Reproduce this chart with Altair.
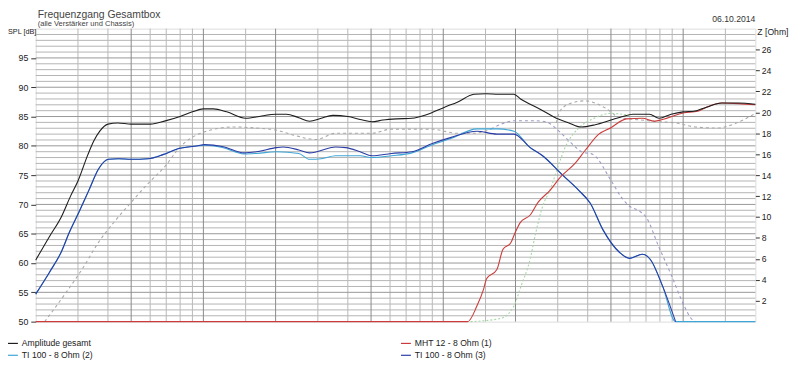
import altair as alt
import pandas as pd

# ---------------- data ----------------
TITLE = "Frequenzgang Gesamtbox"
SUBTITLE = "(alle Verstärker und Chassis)"
DATE = "06.10.2014"
Y_LEFT_TITLE = "SPL [dB]"
Y_RIGHT_TITLE = "Z [Ohm]"

X_LABELS = [20, 50, 100, 200, 500, 1000, 2000, 5000, 10000, 20000]
X_GRID_MAJOR = [50, 100, 200, 500, 1000, 2000, 5000, 10000]
X_GRID_MINOR = [30, 40, 60, 70, 80, 90, 150, 300, 400, 600, 700, 800, 900,
                1500, 3000, 4000, 6000, 7000, 8000, 9000, 15000]
SPL_TICKS = [50, 55, 60, 65, 70, 75, 80, 85, 90, 95]
SPL_GRID_MAJOR = [55, 60, 65, 70, 75, 80, 85, 90, 95]
SPL_GRID_MINOR = [d for d in range(51, 100) if d % 5 != 0]
Z_TICKS = [2, 4, 6, 8, 10, 12, 14, 16, 18, 20, 22, 24, 26]

# Amplitude gesamt (black)
gesamt_f = [20, 22.8, 25.6, 28, 30, 33, 35, 37, 40, 44, 50, 60, 70, 80, 90, 100, 110,
            125, 150, 175, 200, 222, 250, 277, 310, 346, 400, 450, 504, 560, 640, 740,
            850, 1013, 1150, 1342, 1500, 1700, 1969, 2100, 2303, 2600, 2960, 3300, 3750,
            4300, 5000, 5600, 6155, 7236, 7937, 8910, 10000, 11100, 12500, 14450, 17000, 20000]
gesamt_db = [60.5, 64.5, 67.9, 71.5, 74.0, 78.5, 80.9, 82.5, 83.7, 83.9, 83.7, 83.7, 84.3,
             85.0, 85.8, 86.3, 86.3, 85.8, 84.7, 85.1, 85.4, 85.4, 84.8, 84.2, 84.7, 85.2,
             85.0, 84.5, 84.1, 84.4, 84.6, 84.7, 85.3, 86.6, 87.5, 88.8, 88.9, 88.8, 88.8,
             88.0, 87.1, 86.0, 84.7, 84.0, 83.2, 83.6, 84.4, 85.0, 85.4, 85.4, 84.7, 85.4,
             85.8, 85.9, 86.6, 87.3, 87.3, 87.1]

# TI 100 - 8 Ohm (2) (light blue)
ti2_f = [20, 22.8, 25.5, 27.6, 30.3, 33.3, 36.6, 40.2, 44.2, 50, 58.8, 67.8, 78.3, 94.9,
         101, 120, 148, 167, 202, 250, 277, 310, 356, 450, 504, 608, 740, 900, 1070, 1382,
         1673, 1969, 2303, 2594, 3145, 3670, 4100, 4627, 5435, 5980, 6760, 7300, 8200,
         9300, 20000]
ti2_db = [54.7, 58.4, 61.8, 65.2, 68.7, 72.4, 76.1, 77.7, 77.8, 77.7, 77.8, 78.5, 79.5,
          80.0, 80.1, 79.7, 78.6, 78.7, 79.0, 78.7, 77.7, 77.8, 78.3, 78.3, 78.0, 78.3,
          78.8, 80.2, 81.2, 82.9, 82.9, 82.5, 79.7, 78.3, 75.0, 72.4, 70.2, 65.7, 61.8,
          60.8, 61.5, 60.6, 56.1, 50.0, 50.0]

# TI 100 - 8 Ohm (3) (dark blue)
ti3_f = [20, 22.8, 25.5, 27.6, 30.3, 33.3, 36.6, 40.2, 44.2, 50, 58.8, 67.8, 78.3, 94.9,
         101, 120, 148, 167, 202, 215, 250, 277, 356, 392, 450, 504, 608, 740, 900, 1070,
         1382, 1673, 1969, 2303, 2594, 3145, 3670, 4100, 4627, 5435, 5980, 6760, 7300,
         8200, 9300]
ti3_db = [54.7, 58.4, 61.8, 65.2, 68.7, 72.4, 76.1, 77.7, 77.8, 77.7, 77.8, 78.5, 79.5,
          80.0, 80.2, 79.9, 78.8, 79.0, 79.7, 79.8, 79.3, 78.8, 79.8, 79.7, 79.0, 78.3,
          78.7, 79.0, 80.4, 81.4, 82.5, 82.0, 82.0, 79.7, 78.3, 75.0, 72.4, 70.2, 65.7,
          61.8, 60.8, 61.5, 60.6, 56.1, 50.0]

# MHT 12 - 8 Ohm (1) (red)
mht_f = [20, 1264, 1382, 1474, 1515, 1673, 1772, 1915, 1994, 2093, 2303, 2487, 2787, 3070,
         3540, 3900, 4450, 5000, 5800, 6760, 7600, 8200, 10000, 11500, 12500, 14450, 17000,
         20000]
mht_db = [50.0, 50.0, 52.7, 55.6, 57.3, 58.9, 62.3, 63.5, 65.2, 66.9, 68.2, 70.4, 72.4,
          74.6, 77.0, 79.2, 82.0, 83.1, 84.6, 84.7, 84.2, 84.5, 85.6, 85.9, 86.6, 87.3,
          87.2, 87.0]

# impedance-like curves (right axis, Ohm)
z_low_f = [21.8, 26.8, 31.2, 36.6, 43.1, 50, 58.8, 69, 80, 100, 134, 165, 201, 240, 294,
           356, 504, 608, 889, 1146, 1342, 1580]
z_low = [0.0, 2.8, 5.0, 7.6, 9.7, 11.4, 13.2, 14.8, 16.7, 18.1, 18.6, 18.5, 18.3, 17.8,
         17.4, 18.0, 18.0, 18.4, 18.4, 18.0, 18.0, 18.4]
z_high_f = [1580, 2000, 2380, 2670, 3070, 3400, 3800, 4190, 5000, 5560, 6000, 6540, 7000,
            7900, 8940, 10100, 10800, 11300]
z_high = [18.4, 19.2, 19.2, 19.1, 18.1, 17.1, 16.2, 16.0, 13.5, 11.8, 11.0, 10.6, 10.0,
          7.2, 4.4, 1.5, 0.3, 0.0]
z_peak_f = [2960, 3080, 3440, 3900, 4750, 5440, 6500, 8000, 9220, 11240, 14000, 15400, 20000]
z_peak = [19.0, 20.2, 20.9, 21.1, 20.4, 19.5, 19.3, 19.1, 19.0, 18.6, 18.5, 18.7, 19.9]
z_green_f = [1300, 1730, 1970, 2110, 2303, 2430, 2594, 2787, 3070, 3230, 3670, 4220, 5000, 6000]
z_green = [0.0, 0.3, 1.5, 3.4, 6.0, 8.5, 11.0, 12.6, 15.4, 16.7, 18.5, 19.4, 19.9, 19.7]

# ---------------- styling ----------------
FONT = "Liberation Sans"
W, H = 727, 296
C_BLACK = "#1e1e1e"
C_RED = "#cc3b3b"
C_LBLUE = "#3fa6d6"
C_DBLUE = "#2a3ca6"
C_GREY = "#a9a9a9"
C_LAV = "#9c9cc8"
C_GREEN = "#a6d6a6"

xscale = alt.Scale(type="log", domain=[20, 20000], nice=False)
x_enc = alt.X("f:Q", scale=xscale, title=None,
              axis=alt.Axis(values=X_LABELS, format="d", grid=False, domain=False,
                            tickSize=4, tickColor="#333", labelPadding=2,
                            labelFontSize=8.7, labelColor="#222", labelFont=FONT,
                            labelFlush=False, labelOverlap=False))
yscale_spl = alt.Scale(domain=[50, 100], nice=False, zero=False)
y_spl_axis = alt.Y("v:Q", scale=yscale_spl, title=None,
                   axis=alt.Axis(orient="left", values=SPL_TICKS, grid=False, domain=False,
                                 tickSize=5, tickColor="#333", labelPadding=3,
                                 labelFontSize=8.9, labelColor="#222", labelFont=FONT))
y_spl_noaxis = alt.Y("v:Q", scale=yscale_spl, title=None, axis=None)
y_z = alt.Y("z:Q", scale=alt.Scale(domain=[0, 28], nice=False, zero=True), title=None,
            axis=alt.Axis(orient="right", values=Z_TICKS, grid=False, domain=False,
                          tickSize=4, tickColor="#333", labelPadding=2,
                          labelFontSize=8.7, labelColor="#222", labelFont=FONT))


def vrules(vals, color):
    return alt.Chart(pd.DataFrame({"f": vals})).mark_rule(color=color, strokeWidth=1).encode(
        x=alt.X("f:Q", scale=xscale, title=None, axis=None))


def hrules(vals, color):
    return alt.Chart(pd.DataFrame({"v": vals})).mark_rule(color=color, strokeWidth=1).encode(
        y=y_spl_noaxis)


grid = alt.layer(
    hrules(SPL_GRID_MINOR, "#b4b4b4"),
    vrules(X_GRID_MINOR, "#b8b8b8"),
    hrules(SPL_GRID_MAJOR, "#989898"),
    vrules(X_GRID_MAJOR, "#8a8a8a"),
)


def zline(fs, zs, color, dash):
    return alt.Chart(pd.DataFrame({"f": fs, "z": zs})).mark_line(
        color=color, strokeWidth=1.1, strokeDash=dash, interpolate="monotone"
    ).encode(x=x_enc, y=y_z)


zlayer = alt.layer(
    zline(z_low_f, z_low, C_GREY, [3, 3]),
    zline(z_high_f, z_high, C_LAV, [3, 3]),
    zline(z_peak_f, z_peak, C_GREY, [3, 3]),
    zline(z_green_f, z_green, C_GREEN, [2, 2]),
)


def sline(fs, vs, color):
    return alt.Chart(pd.DataFrame({"f": fs, "v": vs})).mark_line(
        color=color, strokeWidth=1.1, interpolate="monotone"
    ).encode(x=x_enc, y=y_spl_axis)


def text(t, x, y, size, color="#222", align="left", baseline="alphabetic"):
    return alt.Chart(pd.DataFrame({"t": [t]})).mark_text(
        font=FONT, fontSize=size, color=color, align=align, baseline=baseline
    ).encode(text="t:N", x=alt.value(x), y=alt.value(y))


def legend_item(label, color, x, y):
    line = alt.Chart(pd.DataFrame({"t": [label]})).mark_rule(color=color, strokeWidth=1.2).encode(
        x=alt.value(x), x2=alt.value(x + 10), y=alt.value(y))
    return alt.layer(line, text(label, x + 14, y, 8.7, baseline="middle"))


spl = alt.layer(
    sline(ti2_f, ti2_db, C_LBLUE),
    sline(ti3_f, ti3_db, C_DBLUE),
    sline(mht_f, mht_db, C_RED),
    sline(gesamt_f, gesamt_db, C_BLACK),
    text(TITLE, 2, -10.5, 10.5, color="#444"),
    text(SUBTITLE, 2, -2.5, 7.6, color="#444"),
    text(DATE, 727, -7, 8.7, color="#333", align="right"),
    text(Y_LEFT_TITLE, -28, 3.5, 7.3, baseline="middle"),
    text(Y_RIGHT_TITLE, 729, 3.5, 8.7, baseline="middle"),
    legend_item("Amplitude gesamt", C_BLACK, -28, 318),
    legend_item("TI 100 - 8 Ohm (2)", C_LBLUE, -28, 330),
    legend_item("MHT 12 - 8 Ohm (1)", C_RED, 369, 318),
    legend_item("TI 100 - 8 Ohm (3)", C_DBLUE, 369, 330),
)

chart = alt.layer(grid, zlayer, spl).resolve_scale(y="independent").properties(
    width=W, height=H,
    autosize=alt.AutoSizeParams(type="none"),
    padding={"left": 28, "top": 19, "right": 37, "bottom": 45},
).configure_view(stroke="#777", strokeWidth=1).configure(background="white")

chart.save("out.html", embed_options={"renderer": "svg", "actions": False})
